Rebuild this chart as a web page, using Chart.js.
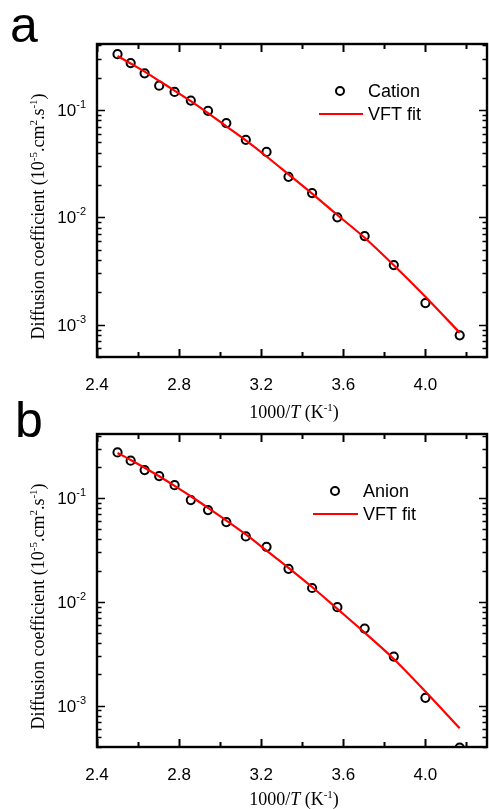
<!DOCTYPE html>
<html>
<head>
<meta charset="utf-8">
<script src="https://cdn.jsdelivr.net/npm/chart.js@4.4.1/dist/chart.umd.min.js"></script>
<style>
  html, body { margin: 0; padding: 0; background: #fff; }
  #wrap { position: relative; width: 489px; height: 809px; overflow: hidden; }
  canvas { position: absolute; left: 0; }
</style>
</head>
<body>
<div id="wrap">
  <canvas id="chartA" width="489" height="430" style="top:0px"></canvas>
  <canvas id="chartB" width="489" height="429" style="top:380px"></canvas>
</div>
<script>
/* 
   DATA
 */
// 1000/T (K^-1)
const invT = [2.500, 2.564, 2.632, 2.703, 2.778, 2.857, 2.941, 3.030, 3.125,
              3.226, 3.333, 3.448, 3.571, 3.704, 3.846, 4.000, 4.167];

// panel a: cation diffusion coefficient (10^-5 cm^2 s^-1)
const cationD   = [0.330, 0.273, 0.219, 0.168, 0.147, 0.122, 0.098, 0.0752, 0.0526,
                   0.0406, 0.0238, 0.0168, 0.0100, 0.00668, 0.00359, 0.00159, 0.000796];
const cationFit = [0.318, 0.270, 0.227, 0.186, 0.151, 0.1205, 0.0934, 0.0703, 0.0519,
                   0.0368, 0.0251, 0.0166, 0.0105, 0.00645, 0.00358, 0.00182, 0.000842];

// panel b: anion diffusion coefficient
const anionD    = [0.275, 0.229, 0.186, 0.163, 0.133, 0.0957, 0.0766, 0.0587, 0.0427,
                   0.0339, 0.0208, 0.0136, 0.00889, 0.00553, 0.00297, 0.00119, 0.000395];
const anionFit  = [0.272, 0.233, 0.196, 0.162, 0.131, 0.104, 0.0804, 0.0608, 0.0446,
                   0.0312, 0.0213, 0.0139, 0.00856, 0.00505, 0.00282, 0.00137, 0.000605];

// axes
const xMin = 2.4, xMax = 4.3;
const xTickStep = 0.2;          // minor, labelled every 0.4
const yDecades = [1e-3, 1e-2, 1e-1];

const SANS  = '"Liberation Sans", Arial, sans-serif';
const SERIF = '"Liberation Serif", "Times New Roman", serif';

/* 
   HELPERS
 */
// draw a list of text runs [text, font, rise] starting at x along baseline y
function runsWidth(ctx, runs) {
    let w = 0;
    runs.forEach(r => { ctx.font = r[1]; w += ctx.measureText(r[0]).width; });
    return w;
}
function drawRuns(ctx, runs, x, y) {
    runs.forEach(r => {
        ctx.font = r[1];
        ctx.fillText(r[0], x, y - (r[2] || 0));
        x += ctx.measureText(r[0]).width;
    });
}

const normal = '18px ' + SERIF;
const sup    = '11px ' + SERIF;

const yTitleRuns = [
    ['Diffusion coefficient (10', normal], ['-5', sup, 7], ['.cm', normal],
    ['2', sup, 7], ['.s', normal], ['-1', sup, 7], [')', normal]
];
const xTitleRuns = [
    ['1000/', normal], ['T', 'italic 18px ' + SERIF], [' (K', normal], ['-1', sup, 7], [')', normal]
];

// frame, inward ticks, y labels, titles, legend
const decorPlugin = {
    id: 'decor',
    afterDraw(chart, args, opts) {
        const ctx = chart.ctx;
        const a = chart.chartArea;
        const xs = chart.scales.x, ys = chart.scales.y;
        ctx.save();
        ctx.strokeStyle = '#000';
        ctx.fillStyle = '#000';
        ctx.lineWidth = 2;

        // x ticks (bottom & top)
        for (let i = 0; ; i++) {
            const v = xMin + i * xTickStep;
            if (v > xMax + 1e-9) break;
            const px = Math.round(xs.getPixelForValue(v)) + 0.5;
            const len = (i % 2 === 0) ? 8 : 5;
            ctx.beginPath();
            ctx.moveTo(px, a.bottom); ctx.lineTo(px, a.bottom - len);
            ctx.moveTo(px, a.top);    ctx.lineTo(px, a.top + len);
            ctx.stroke();
        }

        // y ticks (left & right)
        ctx.lineWidth = 1.6;
        for (let e = -4; e <= 0; e++) {
            for (let m = 1; m <= 9; m++) {
                const v = m * Math.pow(10, e);
                if (v < ys.min || v > ys.max) continue;
                const py = Math.round(ys.getPixelForValue(v)) + 0.5;
                const len = (m === 1) ? 8 : 4.5;
                ctx.beginPath();
                ctx.moveTo(a.left, py);  ctx.lineTo(a.left + len, py);
                ctx.moveTo(a.right, py); ctx.lineTo(a.right - len, py);
                ctx.stroke();
            }
        }

        // frame
        ctx.lineWidth = 2.4;
        ctx.strokeRect(a.left, a.top, a.right - a.left, a.bottom - a.top);

        // y tick labels 10^n
        ctx.textBaseline = 'alphabetic';
        yDecades.forEach(v => {
            const py = ys.getPixelForValue(v);
            const exp = String(Math.round(Math.log10(v)));
            const runs = [['10', '17px ' + SANS], [exp, '11px ' + SANS, 8]];
            const w = runsWidth(ctx, runs);
            drawRuns(ctx, runs, 86 - w, py + 6);
        });

        // y title (rotated)
        ctx.save();
        const cy = (a.top + a.bottom) / 2 + 16;
        ctx.translate(44, cy);
        ctx.rotate(-Math.PI / 2);
        const tw = runsWidth(ctx, yTitleRuns);
        drawRuns(ctx, yTitleRuns, -tw / 2, 0);
        ctx.restore();

        // x title
        const xw = runsWidth(ctx, xTitleRuns);
        drawRuns(ctx, xTitleRuns, (a.left + a.right) / 2 + 2 - xw / 2, opts.xTitleY);

        // panel letter
        ctx.font = '50px ' + SANS;
        ctx.fillText(opts.letter, opts.letterX, opts.letterY);

        // legend
        const L = opts.legend;
        ctx.lineWidth = 2;
        ctx.beginPath();
        ctx.arc(L.cx, L.cy, 4, 0, Math.PI * 2);
        ctx.stroke();
        ctx.strokeStyle = '#ff0000';
        ctx.lineWidth = 2.2;
        ctx.beginPath();
        ctx.moveTo(L.lx0, L.ly); ctx.lineTo(L.lx1, L.ly);
        ctx.stroke();
        ctx.font = '18px ' + SANS;
        ctx.textBaseline = 'middle';
        ctx.fillText(L.label, L.tx, L.cy + 1);
        ctx.fillText('VFT fit', L.tx, L.ly + 1);

        ctx.restore();
    }
};

function makeChart(id, dVals, fitVals, yMin, yMax, padTop, xHeight, decor) {
    const pts = invT.map((x, i) => ({ x: x, y: dVals[i] }));
    const fit = invT.map((x, i) => ({ x: x, y: fitVals[i] }));
    return new Chart(document.getElementById(id), {
        type: 'scatter',
        data: {
            datasets: [
                {
                    label: 'VFT fit',
                    data: fit,
                    showLine: true,
                    borderColor: '#ff0000',
                    borderWidth: 2.2,
                    pointRadius: 0,
                    tension: 0.3,
                    fill: false
                },
                {
                    label: decor.legend.label,
                    data: pts,
                    showLine: false,
                    pointStyle: 'circle',
                    pointRadius: 4.1,
                    pointBorderWidth: 2,
                    borderColor: '#000',
                    backgroundColor: 'rgba(0,0,0,0)'
                }
            ]
        },
        options: {
            responsive: false,
            animation: false,
            layout: { autoPadding: false, padding: { top: padTop, right: 2, left: 0, bottom: 0 } },
            plugins: {
                legend: { display: false },
                tooltip: { enabled: false },
                decor: decor
            },
            scales: {
                x: {
                    type: 'linear',
                    min: xMin, max: xMax,
                    grid: { display: false },
                    border: { display: false },
                    afterFit: s => { s.height = xHeight; s.paddingRight = 0; s.paddingLeft = 0; },
                    afterBuildTicks: s => {
                        const t = [];
                        for (let i = 0; xMin + i * 0.4 <= xMax; i++) t.push({ value: +(xMin + i * 0.4).toFixed(1) });
                        s.ticks = t;
                    },
                    ticks: {
                        color: '#000',
                        padding: 10,
                        maxRotation: 0,
                        autoSkip: false,
                        font: { family: 'Liberation Sans', size: 17 },
                        callback: v => v.toFixed(1)
                    }
                },
                y: {
                    type: 'logarithmic',
                    min: yMin, max: yMax,
                    grid: { display: false },
                    border: { display: false },
                    ticks: { display: false },
                    afterFit: s => { s.width = 97; }
                }
            }
        },
        plugins: [decorPlugin]
    });
}

makeChart('chartA', cationD, cationFit, 5e-4, 0.4107, 44, 430 - 357, {
    letter: 'a', letterX: 10, letterY: 42, xTitleY: 418,
    legend: { label: 'Cation', cx: 340, cy: 91, lx0: 319, lx1: 363, ly: 114, tx: 368 }
});

makeChart('chartB', anionD, anionFit, 4e-4, 0.414, 434 - 380, 429 - (747 - 380), {
    letter: 'b', letterX: 15, letterY: 437 - 380, xTitleY: 805 - 380,
    legend: { label: 'Anion', cx: 335, cy: 491 - 380, lx0: 313, lx1: 358, ly: 514 - 380, tx: 363 }
});
</script>
</body>
</html>
